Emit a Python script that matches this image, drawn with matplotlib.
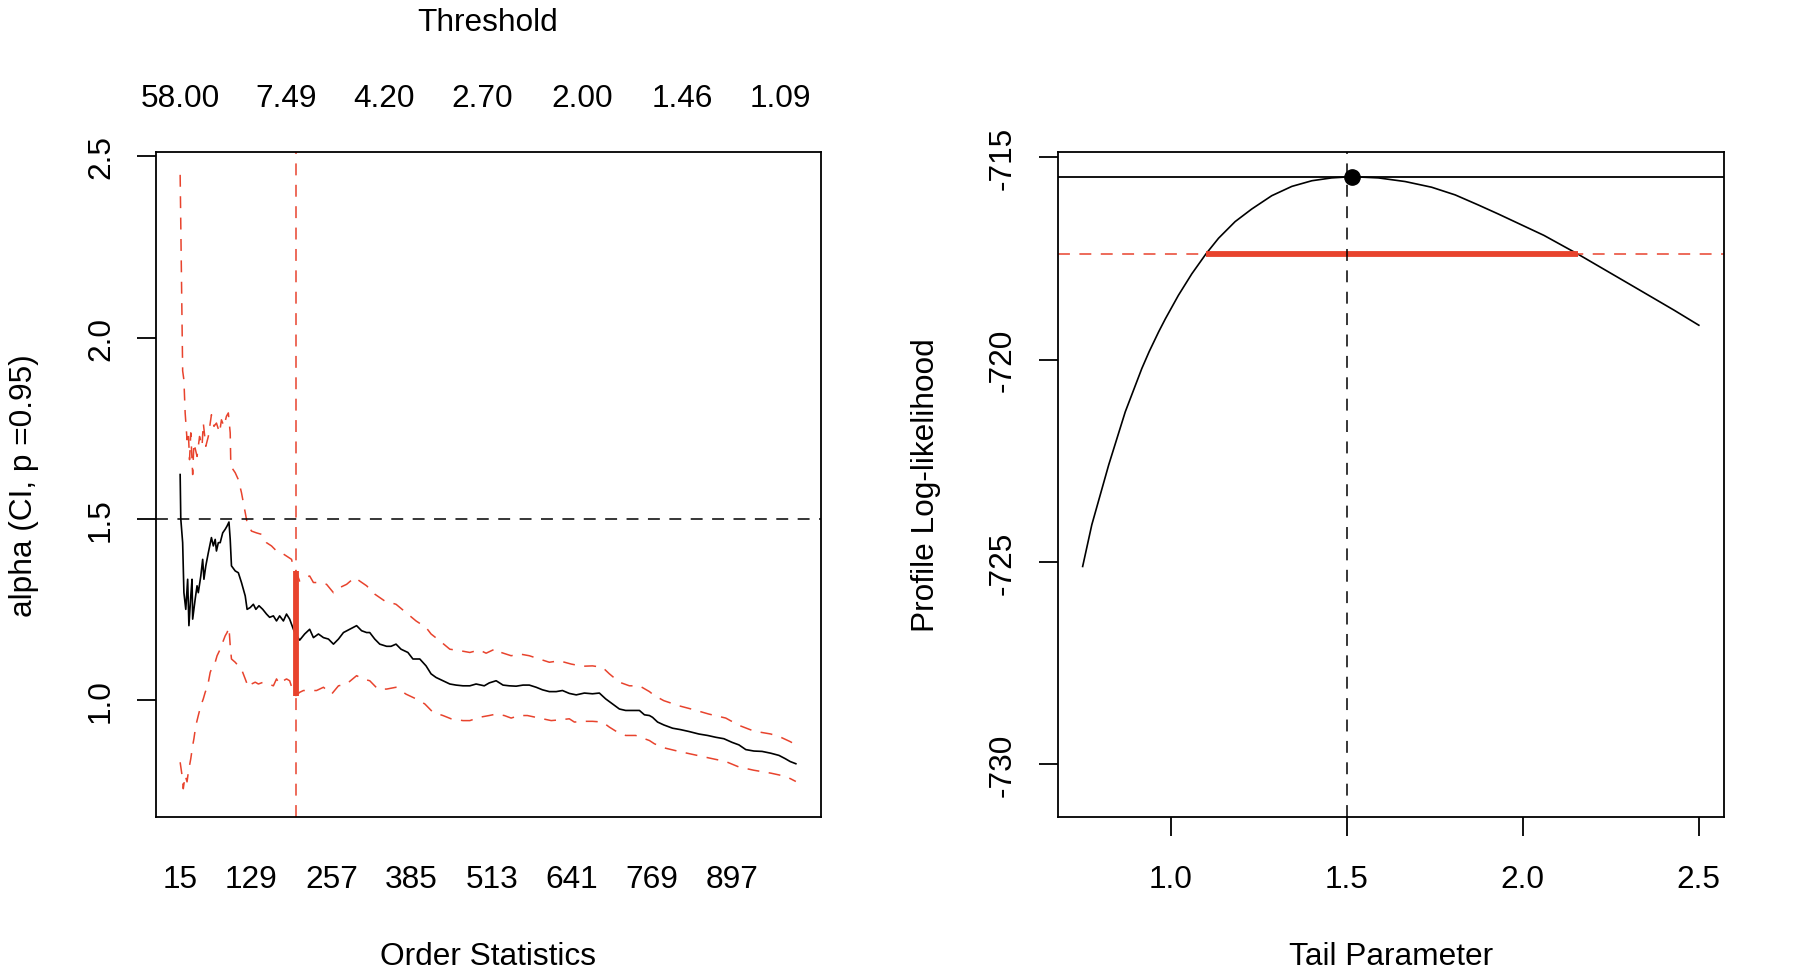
import matplotlib
matplotlib.use("Agg")
import matplotlib.pyplot as plt

plt.rcParams['font.family'] = ['Liberation Sans', 'DejaVu Sans']

# ---- left panel: Hill estimate with confidence band ----
alpha_k = [15, 16, 19, 21, 24, 27, 29, 32, 34, 35,
           39, 42, 44, 48, 51, 53, 56, 60, 65, 68,
           71, 73, 76, 79, 83, 87, 90, 93, 95, 97,
           103, 108, 113, 119, 122, 127, 132, 136, 141, 147,
           153, 158, 164, 169, 174, 180, 185, 190, 196, 200,
           206, 214, 222, 228, 236, 244, 252, 260, 268, 276,
           286, 297, 305, 313, 318, 326, 334, 345, 352, 360,
           368, 379, 387, 398, 408, 416, 424, 435, 446, 456,
           467, 478, 488, 501, 509, 520, 531, 541, 552, 563,
           573, 584, 594, 605, 616, 626, 637, 648, 661, 674,
           685, 695, 706, 717, 727, 738, 749, 757, 765, 770,
           778, 788, 802, 815, 828, 844, 858, 871, 884, 897,
           908, 919, 932, 945, 959, 972, 982, 990, 999]
alpha = [1.622, 1.50, 1.434, 1.296, 1.25, 1.333, 1.205, 1.287, 1.333, 1.223,
         1.278, 1.315, 1.296, 1.342, 1.388, 1.333, 1.37, 1.406, 1.448, 1.425,
         1.443, 1.411, 1.434, 1.434, 1.461, 1.471, 1.480, 1.491, 1.443, 1.37,
         1.356, 1.351, 1.324, 1.287, 1.25, 1.255, 1.264, 1.25, 1.26, 1.25,
         1.237, 1.228, 1.232, 1.218, 1.232, 1.218, 1.237, 1.223, 1.195, 1.18,
         1.165, 1.182, 1.195, 1.172, 1.182, 1.172, 1.168, 1.154, 1.168, 1.186,
         1.195, 1.205, 1.191, 1.186, 1.186, 1.168, 1.154, 1.148, 1.148, 1.154,
         1.14, 1.131, 1.113, 1.113, 1.094, 1.072, 1.062, 1.053, 1.044, 1.041,
         1.039, 1.039, 1.044, 1.039, 1.047, 1.053, 1.041, 1.039, 1.038, 1.041,
         1.041, 1.035, 1.028, 1.023, 1.023, 1.026, 1.018, 1.014, 1.019, 1.017,
         1.019, 1.003, 0.989, 0.975, 0.971, 0.971, 0.971, 0.959, 0.957, 0.952,
         0.939, 0.931, 0.922, 0.918, 0.913, 0.906, 0.902, 0.897, 0.893, 0.883,
         0.876, 0.863, 0.859, 0.858, 0.853, 0.847, 0.838, 0.83, 0.824]

upper_k = [15, 17, 19, 21, 23, 26, 28, 30, 32, 35,
           37, 42, 46, 50, 52, 56, 60, 65, 69, 73,
           78, 81, 85, 89, 92, 95, 96, 103, 108, 113,
           119, 122, 129, 137, 145, 153, 161, 169, 177, 185,
           193, 197, 200, 206, 214, 222, 228, 238, 249, 260,
           270, 281, 294, 302, 313, 326, 342, 360, 376, 392,
           408, 416, 430, 446, 462, 478, 493, 504, 520, 528,
           544, 557, 573, 589, 605, 621, 640, 658, 674, 690,
           701, 717, 733, 749, 765, 773, 788, 812, 836, 860,
           887, 908, 932, 959, 975, 990, 999]
upper = [2.449, 2.18, 1.908, 1.883, 1.792, 1.718, 1.741, 1.663, 1.737, 1.622,
         1.709, 1.672, 1.727, 1.70, 1.764, 1.70, 1.727, 1.787, 1.755, 1.764,
         1.737, 1.773, 1.755, 1.783, 1.792, 1.737, 1.645, 1.627, 1.608, 1.572,
         1.517, 1.489, 1.466, 1.461, 1.457, 1.434, 1.425, 1.411, 1.406, 1.397,
         1.388, 1.36, 1.355, 1.328, 1.338, 1.342, 1.324, 1.324, 1.319, 1.296,
         1.31, 1.319, 1.338, 1.328, 1.315, 1.292, 1.273, 1.264, 1.241, 1.218,
         1.2, 1.182, 1.163, 1.14, 1.136, 1.131, 1.138, 1.129, 1.142, 1.131,
         1.122, 1.127, 1.122, 1.113, 1.104, 1.108, 1.099, 1.093, 1.094, 1.09,
         1.072, 1.049, 1.039, 1.039, 1.023, 1.012, 0.998, 0.984, 0.973, 0.961,
         0.95, 0.93, 0.914, 0.906, 0.897, 0.885, 0.876]

lower_k = [15, 18, 20, 23, 26, 28, 32, 35, 37, 40,
           44, 48, 52, 55, 59, 63, 67, 71, 74, 79,
           83, 87, 90, 93, 95, 97, 103, 108, 113, 119,
           124, 129, 135, 140, 148, 156, 164, 169, 174, 180,
           185, 190, 196, 200, 206, 212, 222, 233, 244, 257,
           268, 281, 297, 307, 318, 331, 345, 360, 376, 392,
           406, 419, 435, 448, 467, 478, 493, 509, 520, 533,
           544, 557, 570, 589, 608, 621, 637, 645, 661, 674,
           690, 701, 714, 727, 743, 765, 773, 788, 812, 836,
           860, 887, 908, 932, 959, 975, 990, 999]
lower = [0.828, 0.792, 0.755, 0.792, 0.774, 0.80, 0.838, 0.874, 0.893, 0.929,
         0.957, 0.984, 1.003, 1.021, 1.039, 1.076, 1.094, 1.104, 1.122, 1.14,
         1.159, 1.177, 1.186, 1.2, 1.15, 1.113, 1.104, 1.094, 1.085, 1.058,
         1.035, 1.044, 1.049, 1.044, 1.049, 1.044, 1.039, 1.058, 1.044, 1.053,
         1.058, 1.053, 1.021, 1.012, 1.021, 1.026, 1.026, 1.026, 1.035, 1.016,
         1.039, 1.044, 1.067, 1.058, 1.053, 1.03, 1.03, 1.035, 1.016, 1.003,
         0.989, 0.966, 0.957, 0.948, 0.943, 0.943, 0.952, 0.957, 0.961, 0.957,
         0.95, 0.957, 0.957, 0.95, 0.943, 0.945, 0.948, 0.939, 0.941, 0.941,
         0.939, 0.925, 0.911, 0.902, 0.902, 0.888, 0.879, 0.868, 0.858, 0.849,
         0.84, 0.83, 0.815, 0.806, 0.798, 0.792, 0.783, 0.775]

k_chosen = 200
alpha_ref = 1.5

order_ticks = [15, 129, 257, 385, 513, 641, 769, 897]
threshold_pos = [15, 185, 341, 498, 658, 817, 975]
threshold_labels = ["58.00", "7.49", "4.20", "2.70", "2.00", "1.46", "1.09"]

# ---- right panel: profile log-likelihood ----
tail_alpha = [0.75, 0.776, 0.824, 0.871, 0.918, 0.939, 0.966, 0.985, 1.022, 1.060,
              1.10, 1.136, 1.183, 1.230, 1.287, 1.344, 1.401, 1.457, 1.514, 1.590,
              1.666, 1.741, 1.808, 1.874, 1.93, 2.06, 2.156, 2.31, 2.43, 2.50]
profile_ll = [-725.11, -724.08, -722.60, -721.29, -720.22, -719.80, -719.31, -718.99, -718.41, -717.88,
              -717.39, -717.00, -716.59, -716.28, -715.95, -715.72, -715.58, -715.51, -715.48, -715.51,
              -715.60, -715.74, -715.93, -716.18, -716.40, -716.93, -717.39, -718.17, -718.78, -719.15]
alpha_hat = 1.516
ll_max = -715.48
ci_level = -717.39
ci_lo, ci_hi = 1.10, 2.156
ll_ticks = [-730, -725, -720, -715]

RED = '#E8432D'
FS = 22.8
DASH = (0, (7.8, 6.2))
W, H = 1802, 978

fig = plt.figure(figsize=(W / 100, H / 100), dpi=100)
bot = 1 - 818 / H
hgt = (818 - 153) / H
ax1 = fig.add_axes([155.5 / W, bot, (820.5 - 155.5) / W, hgt])
ax2 = fig.add_axes([1058 / W, bot, (1723.5 - 1058) / W, hgt])

for ax in (ax1, ax2):
    for s in ax.spines.values():
        s.set_linewidth(1.3)

# left
ax1.plot(alpha_k, alpha, color='black', lw=1.2)
ax1.plot(upper_k, upper, color=RED, lw=1.1, ls=DASH)
ax1.plot(lower_k, lower, color=RED, lw=1.1, ls=DASH)
ax1.axhline(alpha_ref, color='black', lw=1.1, ls=DASH)
ax1.axvline(k_chosen, color=RED, lw=1.1, ls=DASH)
ax1.plot([k_chosen, k_chosen],
         [lower[lower_k.index(k_chosen)], upper[upper_k.index(k_chosen)]],
         color=RED, lw=4.2, solid_capstyle='butt')
ax1.set_xlim(-24.4, 1038.4)
ax1.set_ylim(0.677, 2.512)
ax1.set_yticks([1.0, 1.5, 2.0, 2.5])
ax1.set_yticklabels(["1.0", "1.5", "2.0", "2.5"], rotation=90, va='center')
ax1.tick_params(axis='y', direction='out', length=14, width=1.3, labelsize=FS, pad=14.5)
ax1.set_xticks(order_ticks)
ax1.set_xticklabels([str(t) for t in order_ticks])
ax1.tick_params(axis='x', length=0, labelsize=FS, pad=33.5)

top = ax1.secondary_xaxis('top')
top.set_xticks(threshold_pos)
top.set_xticklabels(threshold_labels)
top.tick_params(axis='x', length=0, labelsize=FS, pad=28)
top.spines['top'].set_visible(False)

# right
ax2.plot(tail_alpha, profile_ll, color='black', lw=1.2)
ax2.axhline(ll_max, color='black', lw=1.3)
ax2.axhline(ci_level, color=RED, lw=1.1, ls=DASH)
ax2.plot([ci_lo, ci_hi], [ci_level, ci_level], color=RED, lw=4.2, solid_capstyle='butt')
ax2.axvline(alpha_ref, color='black', lw=1.1, ls=DASH)
ax2.plot([alpha_hat], [ll_max], 'o', color='black', ms=11)
ax2.set_xlim(0.68, 2.57)
ax2.set_ylim(-731.3, -714.87)
ax2.set_xticks([1.0, 1.5, 2.0, 2.5])
ax2.set_xticklabels(["1.0", "1.5", "2.0", "2.5"])
ax2.set_yticks(ll_ticks)
ax2.set_yticklabels([str(t) for t in ll_ticks], rotation=90, va='center')
ax2.tick_params(axis='both', direction='out', length=14, width=1.3, labelsize=FS)
ax2.tick_params(axis='x', pad=19.6)
ax2.tick_params(axis='y', pad=15)

# axis titles
fig.text(488 / W, 1 - 31 / H, "Threshold", ha='center', va='baseline', fontsize=FS)
fig.text(488 / W, 1 - 965 / H, "Order Statistics", ha='center', va='baseline', fontsize=FS)
fig.text(1391 / W, 1 - 965 / H, "Tail Parameter", ha='center', va='baseline', fontsize=FS)
fig.text(24 / W, 1 - 485.5 / H, "alpha (CI, p =0.95)", rotation=90,
         ha='center', va='center', fontsize=FS)
fig.text(926 / W, 1 - 485.5 / H, "Profile Log-likelihood", rotation=90,
         ha='center', va='center', fontsize=FS)

fig.savefig("out.png", dpi=100)
